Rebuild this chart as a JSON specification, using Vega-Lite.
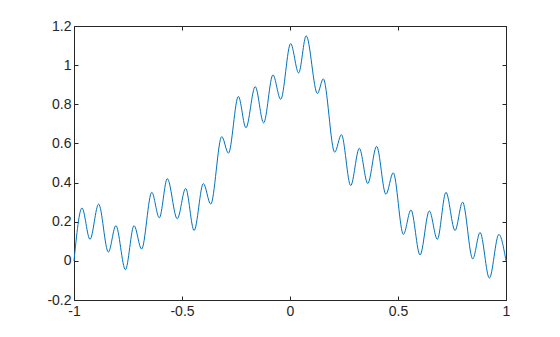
{
  "$schema": "https://vega.github.io/schema/vega-lite/v6.json",
  "width": 432,
  "height": 274,
  "autosize": "none",
  "padding": {"left": 74, "top": 26, "right": 54, "bottom": 37},
  "background": "white",
  "config": {
    "view": {"stroke": "#262626", "strokeWidth": 1},
    "axis": {
      "domain": false,
      "grid": false,
      "tickColor": "#262626",
      "tickSize": -4,
      "labelColor": "#262626",
      "labelFont": "Liberation Sans",
      "labelFontSize": 14,
      "title": null
    }
  },
  "data": {
    "values": [
      {"x": -1.0, "y": 0.0},
      {"x": -0.963, "y": 0.27},
      {"x": -0.926, "y": 0.11},
      {"x": -0.886, "y": 0.29},
      {"x": -0.841, "y": 0.045},
      {"x": -0.806, "y": 0.18},
      {"x": -0.762, "y": -0.045},
      {"x": -0.722, "y": 0.18},
      {"x": -0.687, "y": 0.06},
      {"x": -0.64, "y": 0.35},
      {"x": -0.605, "y": 0.22},
      {"x": -0.568, "y": 0.42},
      {"x": -0.522, "y": 0.215},
      {"x": -0.483, "y": 0.37},
      {"x": -0.444, "y": 0.155},
      {"x": -0.401, "y": 0.395},
      {"x": -0.367, "y": 0.29},
      {"x": -0.316, "y": 0.635},
      {"x": -0.285, "y": 0.55},
      {"x": -0.239, "y": 0.84},
      {"x": -0.204, "y": 0.68},
      {"x": -0.161, "y": 0.89},
      {"x": -0.122, "y": 0.705},
      {"x": -0.079, "y": 0.95},
      {"x": -0.043, "y": 0.825},
      {"x": 0.003, "y": 1.11},
      {"x": 0.04, "y": 0.96},
      {"x": 0.075, "y": 1.15},
      {"x": 0.127, "y": 0.855},
      {"x": 0.154, "y": 0.93},
      {"x": 0.207, "y": 0.555},
      {"x": 0.238, "y": 0.645},
      {"x": 0.281, "y": 0.385},
      {"x": 0.321, "y": 0.575},
      {"x": 0.36, "y": 0.395},
      {"x": 0.401, "y": 0.585},
      {"x": 0.444, "y": 0.34},
      {"x": 0.478, "y": 0.45},
      {"x": 0.525, "y": 0.135},
      {"x": 0.56, "y": 0.26},
      {"x": 0.602, "y": 0.03},
      {"x": 0.645, "y": 0.255},
      {"x": 0.682, "y": 0.11},
      {"x": 0.722, "y": 0.35},
      {"x": 0.764, "y": 0.155},
      {"x": 0.799, "y": 0.3},
      {"x": 0.846, "y": 0.01},
      {"x": 0.88, "y": 0.145},
      {"x": 0.923, "y": -0.088},
      {"x": 0.967, "y": 0.135},
      {"x": 1.0, "y": 0.0}
    ]
  },
  "layer": [
    {
      "mark": {"type": "line", "interpolate": "monotone", "color": "#0072BD", "strokeWidth": 1},
      "encoding": {
        "x": {
          "field": "x", "type": "quantitative",
          "scale": {"domain": [-1, 1], "nice": false, "zero": false},
          "axis": {"orient": "bottom", "values": [-1, -0.5, 0, 0.5, 1], "labelPadding": 8, "labelFlush": false, "labelExpr": "toString(datum.value)"}
        },
        "y": {
          "field": "y", "type": "quantitative",
          "scale": {"domain": [-0.2, 1.2], "nice": false, "zero": false},
          "axis": {"orient": "left", "values": [-0.2, 0, 0.2, 0.4, 0.6, 0.8, 1, 1.2], "labelPadding": 7, "labelFlush": false, "labelExpr": "toString(datum.value)"}
        }
      }
    },
    {
      "mark": {"type": "line", "opacity": 0},
      "encoding": {
        "x": {
          "field": "x", "type": "quantitative",
          "axis": {"orient": "top", "values": [-1, -0.5, 0, 0.5, 1], "labels": false}
        },
        "y": {
          "field": "y", "type": "quantitative",
          "axis": {"orient": "right", "values": [-0.2, 0, 0.2, 0.4, 0.6, 0.8, 1, 1.2], "labels": false}
        }
      }
    }
  ],
  "resolve": {"axis": {"x": "independent", "y": "independent"}}
}
